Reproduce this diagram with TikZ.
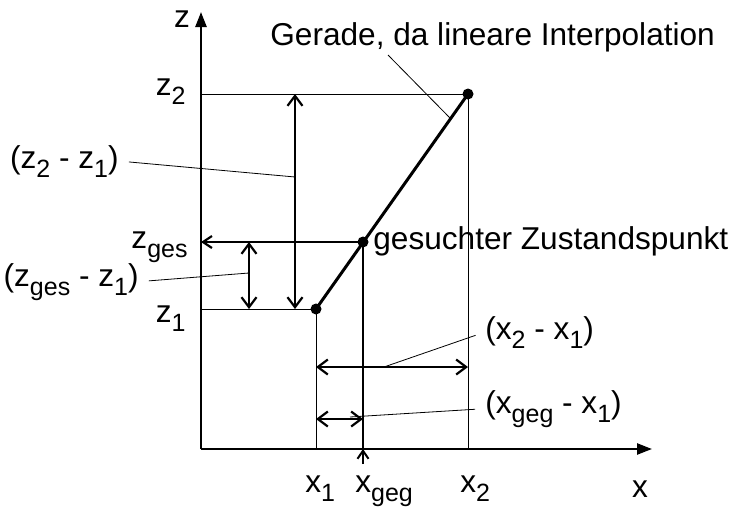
\documentclass[tikz,border=0pt]{standalone}
\usepackage{fontspec}
\setmainfont{Liberation Sans}
\usetikzlibrary{arrows.meta, positioning, calc}
\newcommand{\lo}[1]{\raisebox{-4.5pt}{\fontsize{12.5}{12.5}\selectfont #1}}
\tikzset{
    lbl/.style={inner sep=0pt, font=\fontsize{15.8}{19}\selectfont},
    axisline/.style={-{Triangle[length=7.5pt, width=5.5pt]}, line width=1.2pt},
    thinline/.style={line width=0.5pt},
    leader/.style={line width=0.4pt},
    gerade/.style={line width=1.5pt},
    dimarrow/.style={{Straight Barb[length=5pt, width=7.5pt]}-{Straight Barb[length=5pt, width=7.5pt]},
                     line width=1.1pt},
    zgesarrow/.style={-{Straight Barb[length=4.5pt, width=6pt]}, line width=1.1pt},
    dot/.style={circle, fill, inner sep=0pt, minimum size=5.5pt},
}

\begin{document}
\begin{tikzpicture}[x=0.5pt, y=-0.5pt]
    \useasboundingbox (0,0) rectangle (735,509);
    % Achsen
    \coordinate (o) at (201,449);
    \coordinate (ztop) at (201,12);
    \coordinate (xend) at (652,449);
    \draw[axisline] (o) -- (ztop);
    \draw[axisline] (o) -- (xend);
    \node[lbl, anchor=base] (lblz) at (182,27) {z};
    \node[lbl, anchor=base] (lblx) at (640,497) {x};
    % Stuetzstellen und gesuchter Punkt
    \coordinate (p1) at (316,309);
    \coordinate (pg) at (363,242);
    \coordinate (p2) at (468,94);
    \coordinate (z1) at (201,309);
    \coordinate (zg) at (201,242);
    \coordinate (z2) at (201,94);
    \coordinate (x1) at (316,449);
    \coordinate (xg) at (363,449);
    \coordinate (x2) at (468,449);
    % Hilfslinien
    \draw[thinline] (z2) -- (p2) -- (x2);
    \draw[thinline] (z1) -- (p1) -- (x1);
    \draw[line width=1pt] (pg) -- (xg);
    \draw[zgesarrow] (pg) -- (zg);
    \draw[-{Straight Barb[length=4pt, width=5.5pt]}, line width=1pt] (363,464) -- (xg);
    % Gerade
    \draw[gerade] (p1) -- (p2);
    \node[dot] at (p1) {};
    \node[dot] at (pg) {};
    \node[dot] at (p2) {};
    % Differenzen
    \draw[dimarrow] (295,94) -- (295,309);
    \draw[dimarrow] (249,242) -- (249,309);
    \draw[dimarrow] (316,367) -- (468,367);
    \draw[dimarrow] (316,419) -- (363,419);
    % Beschriftungen
    \node[lbl, anchor=base west] (lblgerade) at (270,45) {Gerade, da lineare Interpolation};
    \node[lbl, anchor=base west] (lblpunkt) at (373,249) {gesuchter Zustandspunkt};
    \node[lbl, anchor=base east] (lblz2) at (186,95) {z\lo{2}};
    \node[lbl, anchor=base east] (lblzges) at (188,248) {z\lo{ges}};
    \node[lbl, anchor=base east] (lblz1) at (186,322) {z\lo{1}};
    \node[lbl, anchor=base east] (lbldz) at (119,168) {(z\lo{2} - z\lo{1})};
    \node[lbl, anchor=base east] (lbldzges) at (139,286) {(z\lo{ges} - z\lo{1})};
    \node[lbl, anchor=base west] (lbldx) at (485,339) {(x\lo{2} - x\lo{1})};
    \node[lbl, anchor=base west] (lbldxgeg) at (485,413) {(x\lo{geg} - x\lo{1})};
    \node[lbl, anchor=base west] (lblx1) at (305,492) {x\lo{1}};
    \node[lbl, anchor=base west] (lblxgeg) at (355,492) {x\lo{geg}};
    \node[lbl, anchor=base west] (lblx2) at (460,492) {x\lo{2}};
    % Bezugslinien
    \coordinate (ger) at (450,118);
    \coordinate (adz) at (295,177);
    \coordinate (adzges) at (249,273);
    \coordinate (adx) at (384,367);
    \coordinate (adxgeg) at (350,417);
    \draw[leader] (388,55) -- (ger);
    \draw[leader, shorten <=5pt] (lbldz.east) -- (adz);
    \draw[leader, shorten <=5pt] (lbldzges.east) -- (adzges);
    \draw[leader, shorten <=5pt] (lbldx.west) -- (adx);
    \draw[leader, shorten <=5pt] (lbldxgeg.west) -- (adxgeg);
\end{tikzpicture}
\end{document}
